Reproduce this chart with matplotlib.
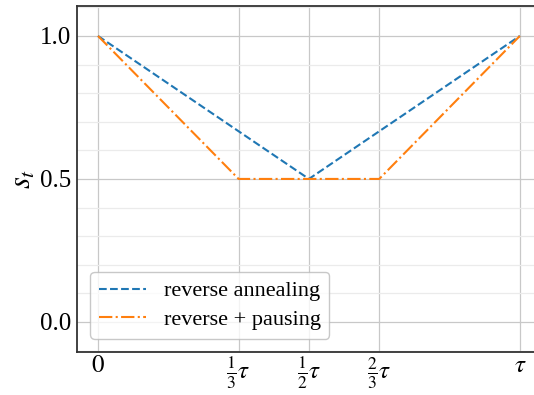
import matplotlib
matplotlib.use("Agg")
import matplotlib.pyplot as plt
from matplotlib.ticker import MultipleLocator

# schedules
t_reverse = [0, 1 / 2, 1]
s_reverse = [1.0, 0.5, 1.0]
t_pause = [0, 1 / 3, 2 / 3, 1]
s_pause = [1.0, 0.5, 0.5, 1.0]

x_ticks = [0, 1 / 3, 1 / 2, 2 / 3, 1]
x_labels = [r"$0$", r"$\frac{1}{3}\tau$", r"$\frac{1}{2}\tau$", r"$\frac{2}{3}\tau$", r"$\tau$"]
y_ticks = [0.0, 0.5, 1.0]

plt.rcParams["font.family"] = ["Liberation Serif", "DejaVu Serif"]
plt.rcParams["mathtext.fontset"] = "stix"

fig = plt.figure(figsize=(5.34, 3.95), dpi=100)
ax = fig.add_axes([0.144, 0.109, 0.869, 0.876])

ax.plot(t_reverse, s_reverse, "--", color="#1f77b4", lw=1.5, label="reverse annealing")
ax.plot(t_pause, s_pause, "-.", color="#ff7f0e", lw=1.5, label="reverse + pausing")

ax.set_xlim(-0.05, 1.05)
ax.set_ylim(-0.105, 1.105)
ax.set_xticks(x_ticks)
ax.set_xticklabels(x_labels)
ax.set_yticks(y_ticks)
ax.set_yticklabels(["0.0", "0.5", "1.0"])
ax.yaxis.set_minor_locator(MultipleLocator(0.1))

ax.grid(which="major", color="#c8c8c8", lw=0.9)
ax.grid(which="minor", axis="y", color="#ebebeb", lw=0.9)
ax.tick_params(which="both", length=0, labelsize=18)
ax.tick_params(axis="y", pad=4)
ax.tick_params(axis="x", pad=2)
ax.set_axisbelow(True)

for side in ["left", "bottom", "top"]:
    ax.spines[side].set_color("#333333")
    ax.spines[side].set_linewidth(1.3)
ax.spines["right"].set_visible(False)

ax.set_ylabel(r"$s_t$", fontsize=22, labelpad=2)

leg = ax.legend(loc="lower left", fontsize=16, frameon=True, fancybox=True,
                handlelength=2.1, labelspacing=0.35, borderaxespad=0.6)
leg.get_frame().set_edgecolor("#bbbbbb")

fig.savefig("out.png", dpi=100)
